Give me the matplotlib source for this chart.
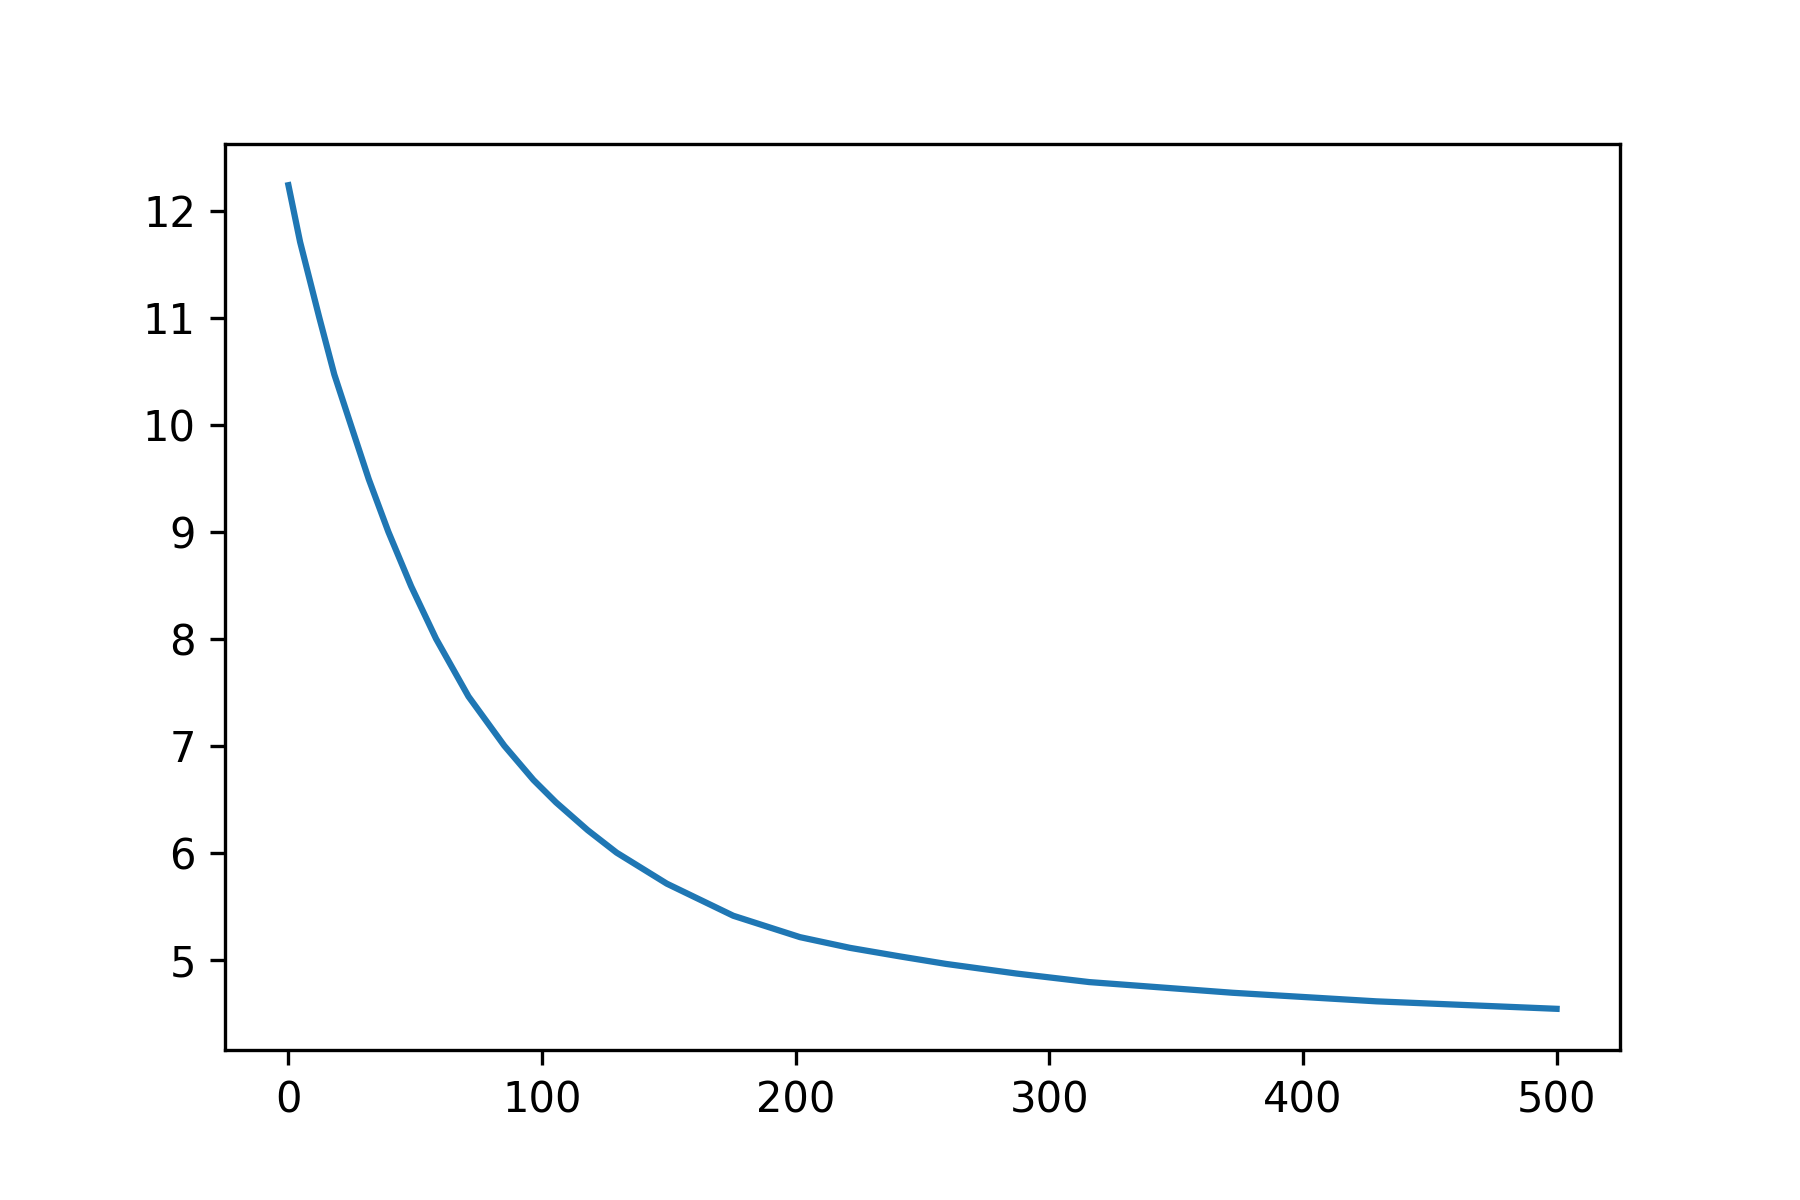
import matplotlib
matplotlib.use("Agg")
import matplotlib.pyplot as plt

# values
x_vals = [0, 4.6, 12.2, 18.1, 24.6, 31.7, 39.4, 48.4, 58.2, 71.0, 85.1,
          96.6, 105.5, 118.0, 129.4, 149.2, 175.4, 201.7, 221.4, 241.1,
          259.2, 287.0, 315.7, 372.3, 428.9, 500]
y_vals = [12.24, 11.71, 11.0, 10.47, 10.0, 9.49, 9.0, 8.49, 8.0, 7.46, 7.0,
          6.68, 6.47, 6.21, 6.0, 5.71, 5.41, 5.21, 5.11, 5.03,
          4.96, 4.87, 4.79, 4.69, 4.61, 4.54]

fig, ax = plt.subplots(figsize=(6, 4), dpi=300)
fig.subplots_adjust(left=0.125, right=0.9, top=0.88, bottom=0.125)

ax.plot(x_vals, y_vals)

fig.savefig("out.png", dpi=300)
plt.close(fig)
